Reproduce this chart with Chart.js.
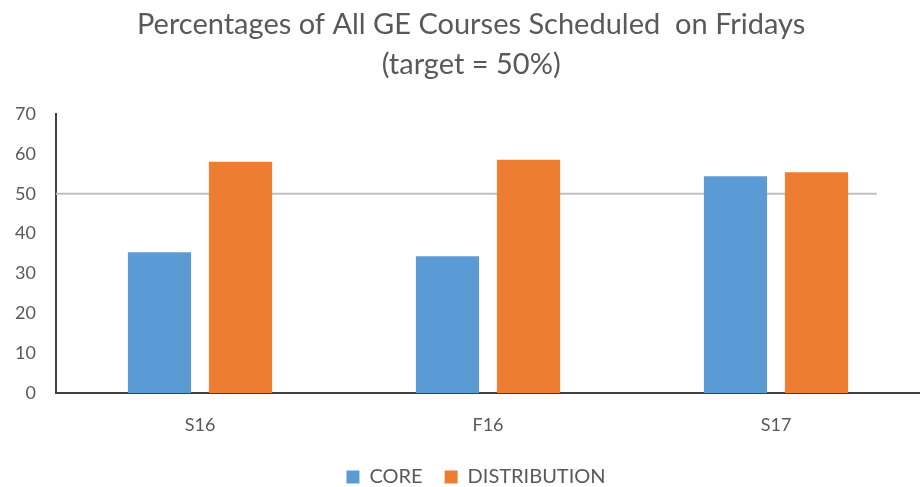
<!DOCTYPE html>
<html>
<head>
<meta charset="utf-8">
<script src="https://cdn.jsdelivr.net/npm/chart.js@4"></script>
<style>
  html, body { margin: 0; padding: 0; background: #fff; }
  #wrap { width: 920px; height: 487px; }
</style>
</head>
<body>
<div id="wrap"><canvas id="resultChart"></canvas></div>
<script>
const categories = ["S16", "F16", "S17"];
const coreValues = [35.3, 34.3, 54.4];
const distributionValues = [58.0, 58.5, 55.4];
const targetValue = 50;

window.onload = function () {
  const ctx = document.getElementById("resultChart").getContext("2d");

  // draws the grey target line across the plot
  const targetLine = {
    id: "targetLine",
    beforeDatasetsDraw(chart) {
      const area = chart.chartArea;
      const y = chart.scales.y.getPixelForValue(targetValue);
      const catWidth = (area.right - area.left) / categories.length;
      const c = chart.ctx;
      c.save();
      c.strokeStyle = "#BFBFBF";
      c.lineWidth = 2;
      c.beginPath();
      c.moveTo(area.left, y);
      c.lineTo(area.right - catWidth * 0.15, y);
      c.stroke();
      c.restore();
    }
  };

  // keep the wide item spacing but a shorter legend box, nudged right like the original
  const legendHeight = {
    id: "legendHeight",
    beforeInit(chart) {
      const legend = chart.legend;
      if (!legend) return;
      const fit = legend.fit.bind(legend);
      legend.fit = function () {
        fit();
        this.height = 42;
      };
    },
    afterLayout(chart) {
      if (!chart.legend) return;
      chart.legend.left += 16;
      chart.legend.right += 16;
    }
  };

  new Chart(ctx, {
    type: "bar",
    data: {
      labels: categories,
      datasets: [
        {
          label: "CORE",
          data: coreValues,
          backgroundColor: "#5B9BD5"
        },
        {
          label: "DISTRIBUTION",
          data: distributionValues,
          backgroundColor: "#ED7D31"
        }
      ]
    },
    options: {
      responsive: true,
      maintainAspectRatio: false,
      animation: false,
      categoryPercentage: 0.5625,
      barPercentage: 0.78,
      plugins: {
        title: {
          display: true,
          text: ["   Percentages of All GE Courses Scheduled  on Fridays", "   (target = 50%)"],
          color: "#595959",
          font: { family: "Lato", size: 29, weight: "normal", lineHeight: 1.38 },
          padding: { top: 5, bottom: 29 }
        },
        legend: {
          position: "bottom",
          labels: {
            color: "#595959",
            font: { family: "Lato", size: 20 },
            boxWidth: 13,
            boxHeight: 13,
            padding: 22
          }
        },
        tooltip: { enabled: false }
      },
      scales: {
        x: {
          grid: { display: false, drawTicks: false },
          border: { display: true, color: "#404040", width: 2 },
          ticks: { color: "#595959", font: { family: "Lato", size: 18 }, padding: 21 },
          afterFit(scale) { scale.height = 52; }
        },
        y: {
          min: 0,
          max: 70,
          grid: { display: false, drawTicks: false },
          border: { display: true, color: "#404040", width: 2 },
          ticks: { stepSize: 10, color: "#595959", font: { family: "Lato", size: 18 }, padding: 20 },
          afterFit(scale) { scale.width = 56; }
        }
      }
    },
    plugins: [targetLine, legendHeight]
  });
};
</script>
</body>
</html>
